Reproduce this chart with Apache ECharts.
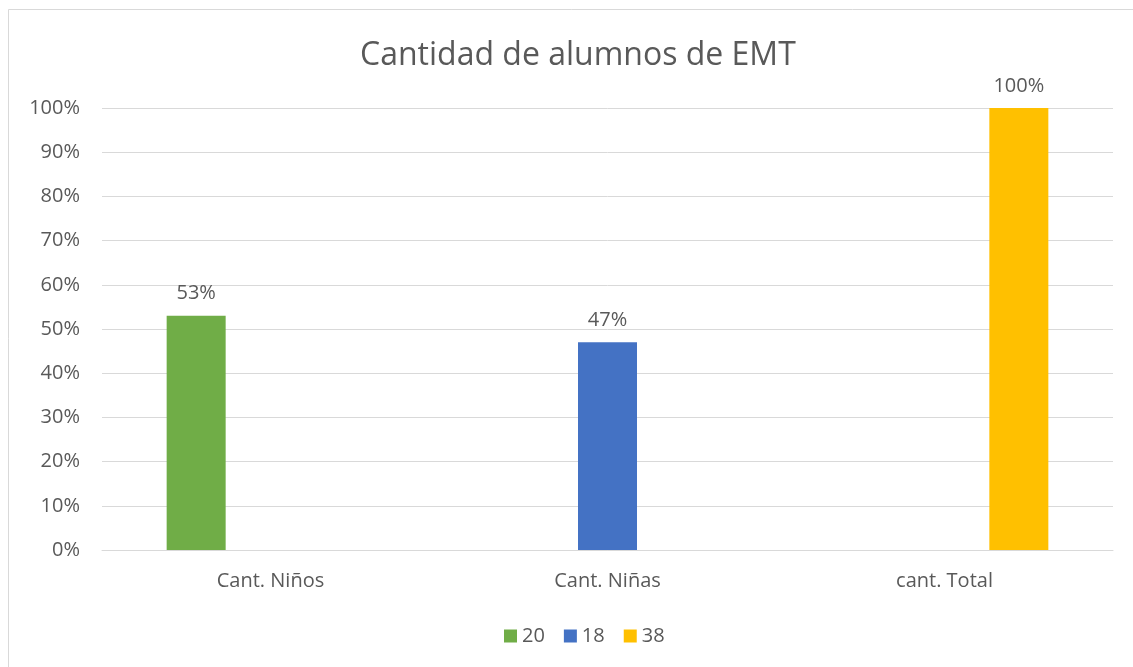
<!DOCTYPE html>
<html>
<head>
<meta charset="utf-8">
<script src="https://cdn.jsdelivr.net/npm/echarts@6/dist/echarts.min.js"></script>
<style>
html,body{margin:0;padding:0;background:#fff;}
#chart{width:1133px;height:667px;}
</style>
</head>
<body>
<div id="chart"></div>
<script>
var title = 'Cantidad de alumnos de EMT';
var categories = ['Cant. Niños', 'Cant. Niñas', 'cant. Total'];
var seriesNames = ['20', '18', '38'];
var seriesColors = ['#70AD47', '#4472C4', '#FFC000'];
var valuesNinos = [53, null, null];
var valuesNinas = [null, 47, null];
var valuesTotal = [null, null, 100];
var yTicks = [0, 10, 20, 30, 40, 50, 60, 70, 80, 90, 100];

var textColor = '#595959';
var font = 'Open Sans';
var allValues = [valuesNinos, valuesNinas, valuesTotal];

var chart = echarts.init(document.getElementById('chart'), null, {renderer: 'canvas'});
var series = seriesNames.map(function (n, i) {
  return {
    name: n,
    type: 'bar',
    data: allValues[i],
    barWidth: 59,
    barGap: '26%',
    itemStyle: {color: seriesColors[i]},
    label: {
      show: true,
      position: 'top',
      distance: 12,
      formatter: function (p) { return p.value + '%'; },
      color: textColor,
      fontFamily: font,
      fontSize: 20
    }
  };
});

chart.setOption({
  backgroundColor: '#fff',
  animation: false,
  title: {
    text: title,
    left: 355,
    top: 35,
    textStyle: {color: textColor, fontFamily: font, fontSize: 32, fontWeight: 'normal'}
  },
  legend: {
    data: seriesNames,
    bottom: 16,
    left: 499,
    icon: 'rect',
    itemWidth: 13,
    itemHeight: 13,
    itemGap: 19,
    textStyle: {color: textColor, fontFamily: font, fontSize: 20}
  },
  grid: {left: 102, right: 20, top: 108, bottom: 117},
  xAxis: {
    type: 'category',
    data: categories,
    axisLine: {show: true, lineStyle: {color: '#D9D9D9', width: 1}},
    axisTick: {show: false},
    axisLabel: {color: textColor, fontFamily: font, fontSize: 20, margin: 21}
  },
  yAxis: {
    type: 'value',
    min: yTicks[0],
    max: yTicks[yTicks.length - 1],
    interval: yTicks[1] - yTicks[0],
    axisLine: {show: false},
    axisTick: {show: false},
    splitLine: {lineStyle: {color: '#D9D9D9', width: 1}},
    axisLabel: {color: textColor, fontFamily: font, fontSize: 20, margin: 22,
      formatter: function (v) { return v + '%'; }}
  },
  series: series,
  graphic: [{
    type: 'rect',
    shape: {x: 8.5, y: 9.5, width: 1200, height: 700},
    style: {fill: 'none', stroke: '#D9D9D9', lineWidth: 1},
    silent: true
  }]
});
</script>
</body>
</html>
